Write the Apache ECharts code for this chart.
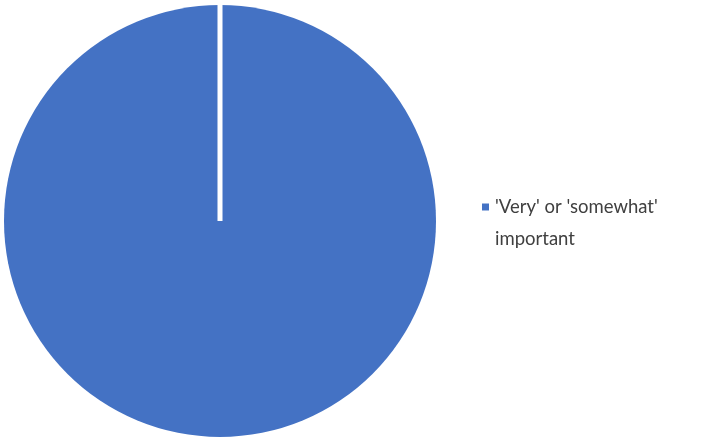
<!DOCTYPE html>
<html><head><meta charset="utf-8">
<script src="https://cdn.jsdelivr.net/npm/echarts@6/dist/echarts.min.js"></script>
<style>html,body{margin:0;padding:0;background:#fff}#c{width:701px;height:439px}</style>
</head><body><div id="c"></div>
<script>
const categories = ["'Very' or 'somewhat'\nimportant"];
const values = [100];

const COLOR = '#4472C4';
const chart = echarts.init(document.getElementById('c'), null, {renderer: 'canvas'});
chart.setOption({
  animation: false,
  legend: {
    orient: 'vertical',
    left: 472,
    top: 186,
    icon: 'none',
    itemWidth: 0,
    itemGap: 0,
    textStyle: {
      fontFamily: 'Lato', fontSize: 18.5, color: '#404040', lineHeight: 32,
      rich: {
        m: {width: 7, height: 7, backgroundColor: COLOR},
        s: {width: 7, height: 7},
        t: {fontFamily: 'Lato', fontSize: 18.5, color: '#404040', lineHeight: 32, padding: [0, 0, 0, 6]}
      }
    },
    formatter: name => name.split('\n').map((l, i) => (i === 0 ? '{m|}' : '{s|}') + '{t|' + l + '}').join('\n'),
    data: categories
  },
  series: [{
    type: 'pie',
    center: [220, 221],
    radius: [0, 216],
    startAngle: 90,
    label: {show: false},
    labelLine: {show: false},
    emphasis: {disabled: true},
    itemStyle: {color: COLOR, borderWidth: 0},
    data: categories.map((c, i) => ({name: c, value: values[i]}))
  }]
});

// white slice edge at the start angle, taken from the pie layout computed by ECharts
let lay = null;
try { lay = chart.getModel().getSeriesByIndex(0).getData().getItemLayout(0); } catch (e) {}
if (lay) {
  const a = lay.startAngle;
  chart.setOption({
    graphic: [{
      type: 'line', silent: true, z: 100,
      shape: {x1: lay.cx, y1: lay.cy, x2: lay.cx + Math.cos(a) * (lay.r + 2), y2: lay.cy + Math.sin(a) * (lay.r + 2)},
      style: {stroke: '#ffffff', lineWidth: 5}
    }]
  });
}
</script></body></html>
